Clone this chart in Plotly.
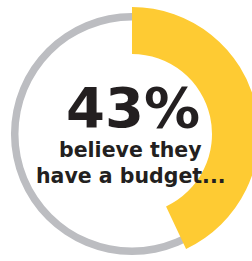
import plotly.graph_objects as go

W, H = 264, 261

share_labels = ["Have a budget", "Other"]
share_values = [43, 57]
headline = "43%"
caption_lines = ["believe they", "have a budget..."]

YELLOW = "#FECB33"
GRAY = "#BCBDC1"
TEXT = "#231F20"

cx, cy = 132, 134  # pixel centre (from top)
r_y, r_y_in = 127, 80
r_g, r_g_in = 121, 113.5


def dom(r):
    yb = H - cy
    return dict(x=[(cx - r) / W, (cx + r) / W],
                y=[max(0, (yb - r) / H), min(1, (yb + r) / H)])


fig = go.Figure()
fig.add_trace(go.Pie(
    labels=share_labels, values=[sum(share_values)], sort=False,
    hole=r_g_in / r_g, domain=dom(r_g),
    marker=dict(colors=[GRAY], line=dict(width=0)),
    textinfo="none", hoverinfo="skip", showlegend=False,
))
fig.add_trace(go.Pie(
    labels=share_labels, values=share_values, sort=False,
    direction="clockwise", rotation=0,
    hole=r_y_in / r_y, domain=dom(r_y),
    marker=dict(colors=[YELLOW, "rgba(0,0,0,0)"], line=dict(width=0)),
    textinfo="none", hoverinfo="skip", showlegend=False,
))

fig.add_annotation(x=133 / W, y=1 - 107.5 / H, xref="paper", yref="paper",
                   xanchor="center", yanchor="middle",
                   text=headline, showarrow=False,
                   font=dict(family="DejaVu Sans", size=56, color=TEXT, weight="bold"))
fig.add_annotation(x=130 / W, y=1 - 150 / H, xref="paper", yref="paper",
                   xanchor="center", yanchor="middle",
                   text=caption_lines[0], showarrow=False,
                   font=dict(family="DejaVu Sans", size=20.5, color=TEXT, weight="bold"))
fig.add_annotation(x=130.5 / W, y=1 - 176 / H, xref="paper", yref="paper",
                   xanchor="center", yanchor="middle",
                   text=caption_lines[1], showarrow=False,
                   font=dict(family="DejaVu Sans", size=20.5, color=TEXT, weight="bold"))

fig.update_layout(width=W, height=H, margin=dict(l=0, r=0, t=0, b=0),
                  paper_bgcolor="white", plot_bgcolor="white")
fig.write_html(
    "out.html",
    config={"displayModeBar": False, "staticPlot": True},
    post_script="document.body.style.margin='0px';"
                "document.body.style.overflow='hidden';"
                "document.documentElement.style.overflow='hidden';",
)
